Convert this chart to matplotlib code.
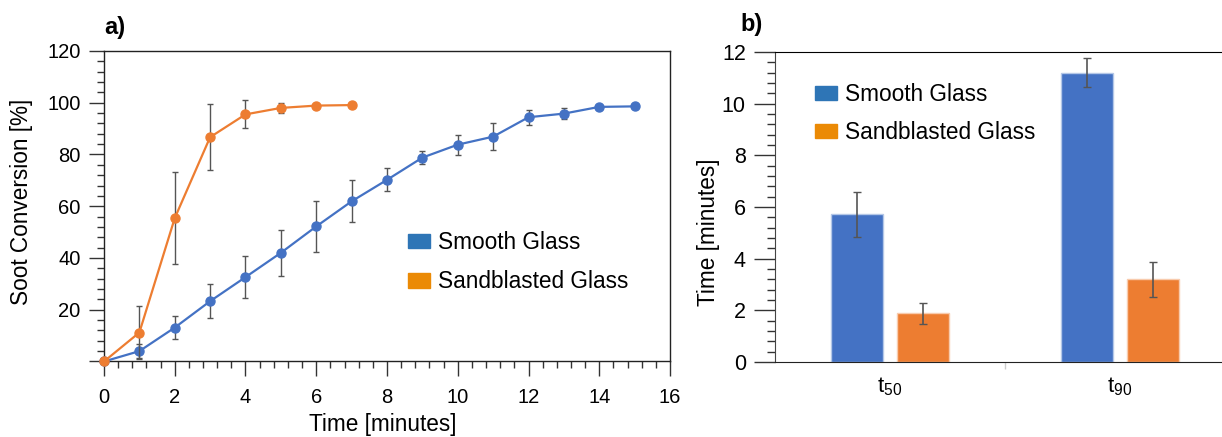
import matplotlib
matplotlib.use("Agg")
import matplotlib.pyplot as plt
from matplotlib.patches import Patch
from matplotlib.ticker import AutoMinorLocator, FixedLocator
import numpy as np

plt.rcParams['font.family'] = ['Liberation Sans', 'DejaVu Sans']
plt.rcParams['mathtext.fontset'] = 'custom'
plt.rcParams['mathtext.rm'] = 'Liberation Sans'

# ==========================
# Data
# ==========================
# a) soot conversion over time
smooth_time = [0, 1, 2, 3, 4, 5, 6, 7, 8, 9, 10, 11, 12, 13, 14, 15]
smooth_conv = [0, 4.0, 13.1, 23.3, 32.6, 42.0, 52.2, 61.9, 70.2, 78.8, 83.8, 86.9, 94.4, 95.8, 98.4, 98.6]
smooth_err = [0, 2.7, 4.3, 6.5, 8.1, 8.9, 9.9, 8.1, 4.5, 2.6, 3.9, 5.1, 2.9, 2.2, 0.5, 0.3]

sand_time = [0, 1, 2, 3, 4, 5, 6, 7]
sand_conv = [0, 11.2, 55.4, 86.7, 95.5, 98.0, 98.9, 99.1]
sand_err = [0, 10.2, 17.7, 12.8, 5.4, 2.0, 0.5, 0.3]

# b) time to 50% / 90% conversion
categories = ['$\\mathregular{t_{50}}$', '$\\mathregular{t_{90}}$']
smooth_t = [5.71, 11.2]
smooth_t_err = [0.86, 0.57]
sand_t = [1.88, 3.19]
sand_t_err = [0.41, 0.67]

series_names = ['Smooth Glass', 'Sandblasted Glass']
y_ticks_a = [0, 20, 40, 60, 80, 100, 120]
y_labels_a = ['', '20', '40', '60', '80', '100', '120']

blue = '#4472C4'
orange = '#ED7D31'
leg_blue = '#2E75B6'
leg_orange = '#EB8A05'
err_col = '#555555'

fig = plt.figure(figsize=(12.22, 4.37), dpi=100)

# ==========================
# a) line plot
# ==========================
ax1 = fig.add_axes([0.0851, 0.1728, 0.4632, 0.7105])

ax1.errorbar(smooth_time, smooth_conv, yerr=smooth_err, color=blue,
             lw=1.6, marker='o', ms=6.5, ecolor=err_col, elinewidth=1,
             capsize=2.5, capthick=1, clip_on=False, zorder=3)
ax1.errorbar(sand_time, sand_conv, yerr=sand_err, color=orange,
             lw=1.6, marker='o', ms=6.5, ecolor=err_col, elinewidth=1,
             capsize=2.5, capthick=1, clip_on=False, zorder=4)

ax1.set_xlim(0, 16)
ax1.set_ylim(0, 120)
ax1.set_xticks(range(0, 17, 2))
ax1.set_yticks(y_ticks_a)
ax1.set_yticklabels(y_labels_a)
ax1.xaxis.set_minor_locator(AutoMinorLocator(5))
ax1.yaxis.set_minor_locator(AutoMinorLocator(5))
ax1.tick_params(which='major', length=11, width=1, color='#333333',
                labelsize=14.5, direction='out')
ax1.tick_params(axis='x', which='major', pad=8)
ax1.tick_params(axis='y', which='major', pad=6)
ax1.tick_params(which='minor', length=5, width=1, color='#333333', direction='out')
for s in ax1.spines.values():
    s.set_color('#222222')
    s.set_linewidth(1)
ax1.set_xlabel('Time [minutes]', fontsize=16.3)
ax1.xaxis.set_label_coords(0.493, -0.166)
ax1.set_ylabel('Soot Conversion [%]', fontsize=16.3)
ax1.yaxis.set_label_coords(-0.1254, 0.514)

handles = [Patch(color=leg_blue), Patch(color=leg_orange)]
ax1.legend(handles, series_names, loc='upper left',
           bbox_to_anchor=(0.537, 0.42), frameon=False, fontsize=16.3,
           handlelength=0.97, handleheight=0.62, handletextpad=0.36,
           labelspacing=0.72, borderpad=0, borderaxespad=0)

fig.text(0.085, 0.938, 'a)', fontsize=17, fontweight='bold', va='center', ha='left')

# ==========================
# b) bar plot
# ==========================
ax2 = fig.add_axes([0.6342, 0.1719, 0.3764, 0.7094])

x = np.arange(len(categories))
bw = 0.226
off = 0.143
ax2.bar(x - off, smooth_t, bw, color=blue, edgecolor='#b4c7e7', linewidth=1,
        yerr=smooth_t_err, ecolor=err_col,
        error_kw=dict(elinewidth=1.2, capsize=3, capthick=1))
ax2.bar(x + off, sand_t, bw, color=orange, edgecolor='#f8cbad', linewidth=1,
        yerr=sand_t_err, ecolor=err_col,
        error_kw=dict(elinewidth=1.2, capsize=3, capthick=1))

ax2.set_xlim(-0.5, 1.5)
ax2.set_ylim(0, 12)
ax2.set_xticks(x)
ax2.set_xticklabels(categories)
ax2.xaxis.set_minor_locator(FixedLocator([0.5]))
ax2.set_yticks(range(0, 13, 2))
ax2.yaxis.set_minor_locator(AutoMinorLocator(5))
ax2.tick_params(axis='x', which='major', length=0, pad=10, labelsize=16)
ax2.tick_params(axis='x', which='minor', length=5, width=1, color='#cccccc')
ax2.tick_params(axis='y', which='major', length=15, width=1, color='#333333',
                labelsize=15.5, pad=6)
ax2.tick_params(axis='y', which='minor', length=6, width=1, color='#333333')
ax2.spines['right'].set_visible(False)
ax2.spines['left'].set_color('#444444')
ax2.spines['bottom'].set_color('#222222')
ax2.spines['top'].set_color('#000000')
ax2.set_ylabel('Time [minutes]', fontsize=16.3)
ax2.yaxis.set_label_coords(-0.12, 0.418)

ax2.legend(handles, series_names, loc='upper left',
           bbox_to_anchor=(0.087, 0.9), frameon=False, fontsize=16.3,
           handlelength=0.97, handleheight=0.62, handletextpad=0.36,
           labelspacing=0.66, borderpad=0, borderaxespad=0)

fig.text(0.6056, 0.943, 'b)', fontsize=17, fontweight='bold', va='center', ha='left')

fig.savefig('out.png', dpi=100)
